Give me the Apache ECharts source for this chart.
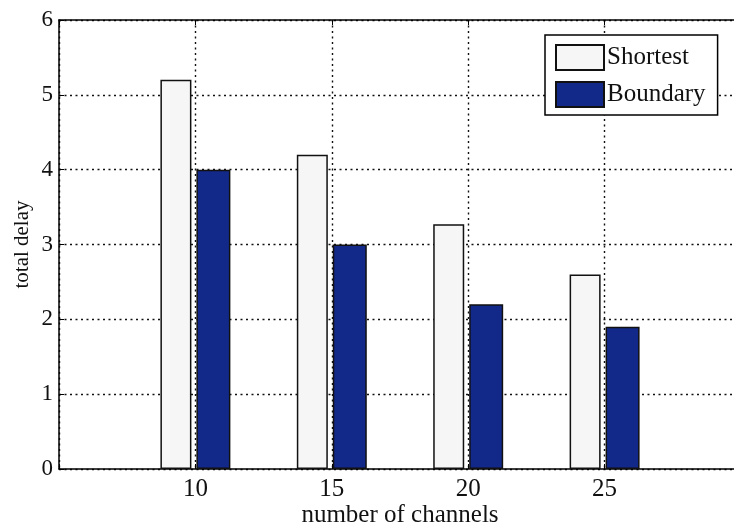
<!DOCTYPE html>
<html>
<head>
<meta charset="utf-8">
<script src="https://cdn.jsdelivr.net/npm/echarts@6/dist/echarts.min.js"></script>
<style>
  html, body { margin: 0; padding: 0; background: #fff; }
  #chart { width: 734px; height: 531px; }
</style>
</head>
<body>
<div id="chart"></div>
<script>
// number of channels
const channels = [10, 15, 20, 25];
// total delay per routing scheme
const shortest = [5.2, 4.2, 3.27, 2.6];
const boundary = [4.0, 3.0, 2.2, 1.9];
const yTicks = [0, 1, 2, 3, 4, 5, 6];

const FONT = 'Liberation Serif';
const gridLine = { show: true, lineStyle: { color: '#111', width: 1.4, type: [2, 3.5] } };

const chart = echarts.init(document.getElementById('chart'), null, { renderer: 'canvas' });

chart.setOption({
  backgroundColor: '#fff',
  animation: false,
  // the axes box runs slightly past the right edge of the canvas
  grid: { left: 59, top: 20, width: 682, height: 449, outerBoundsMode: 'none', containLabel: false },
  legend: {
    orient: 'vertical',
    left: 545,
    top: 35,
    padding: [9, 12, 7, 10],
    icon: 'rect',
    itemWidth: 48,
    itemHeight: 25,
    itemGap: 10,
    backgroundColor: '#fff',
    borderColor: '#000',
    borderWidth: 1.5,
    borderRadius: 0,
    textStyle: { fontFamily: FONT, fontSize: 25, color: '#111', padding: [0, 0, 0, -2] },
    data: ['Shortest', 'Boundary']
  },
  xAxis: [
    {
      type: 'value',
      min: 5,
      max: 30,
      interval: 5,
      position: 'bottom',
      name: 'number of channels',
      nameLocation: 'middle',
      nameGap: 34,
      nameMoveOverlap: false,
      nameTextStyle: { fontFamily: FONT, fontSize: 25, color: '#111' },
      axisLine: { show: true, lineStyle: { color: '#000', width: 1.5 } },
      axisTick: { show: true, inside: true, length: 5, lineStyle: { color: '#000' } },
      axisLabel: {
        fontFamily: FONT, fontSize: 25, color: '#111', margin: 8,
        formatter: v => (channels.indexOf(v) >= 0 ? String(v) : '')
      },
      splitLine: gridLine
    },
    {
      type: 'value',
      min: 5,
      max: 30,
      interval: 5,
      position: 'top',
      axisLine: { show: true, lineStyle: { color: '#000', width: 1.5 } },
      axisTick: { show: true, inside: true, length: 5, lineStyle: { color: '#000' } },
      axisLabel: { show: false },
      splitLine: { show: false }
    }
  ],
  yAxis: {
    type: 'value',
    min: yTicks[0],
    max: yTicks[yTicks.length - 1],
    interval: 1,
    name: 'total delay',
    nameLocation: 'middle',
    nameGap: 26,
    nameMoveOverlap: false,
    nameTextStyle: { fontFamily: FONT, fontSize: 21, color: '#111' },
    axisLine: { show: true, lineStyle: { color: '#000', width: 1.5 } },
    axisTick: { show: true, inside: true, length: 5, lineStyle: { color: '#000' } },
    axisLabel: { fontFamily: FONT, fontSize: 23, color: '#111', margin: 6 },
    splitLine: gridLine
  },
  series: [
    {
      name: 'Shortest',
      type: 'bar',
      barWidth: 31,
      barGap: '16%',
      data: channels.map((c, i) => [c, shortest[i]]),
      itemStyle: { color: '#f6f6f6', borderColor: '#111', borderWidth: 1.5 }
    },
    {
      name: 'Boundary',
      type: 'bar',
      barWidth: 34,
      barGap: '16%',
      data: channels.map((c, i) => [c, boundary[i]]),
      itemStyle: { color: '#13298a', borderColor: '#111', borderWidth: 1.5 }
    }
  ]
});
</script>
</body>
</html>
